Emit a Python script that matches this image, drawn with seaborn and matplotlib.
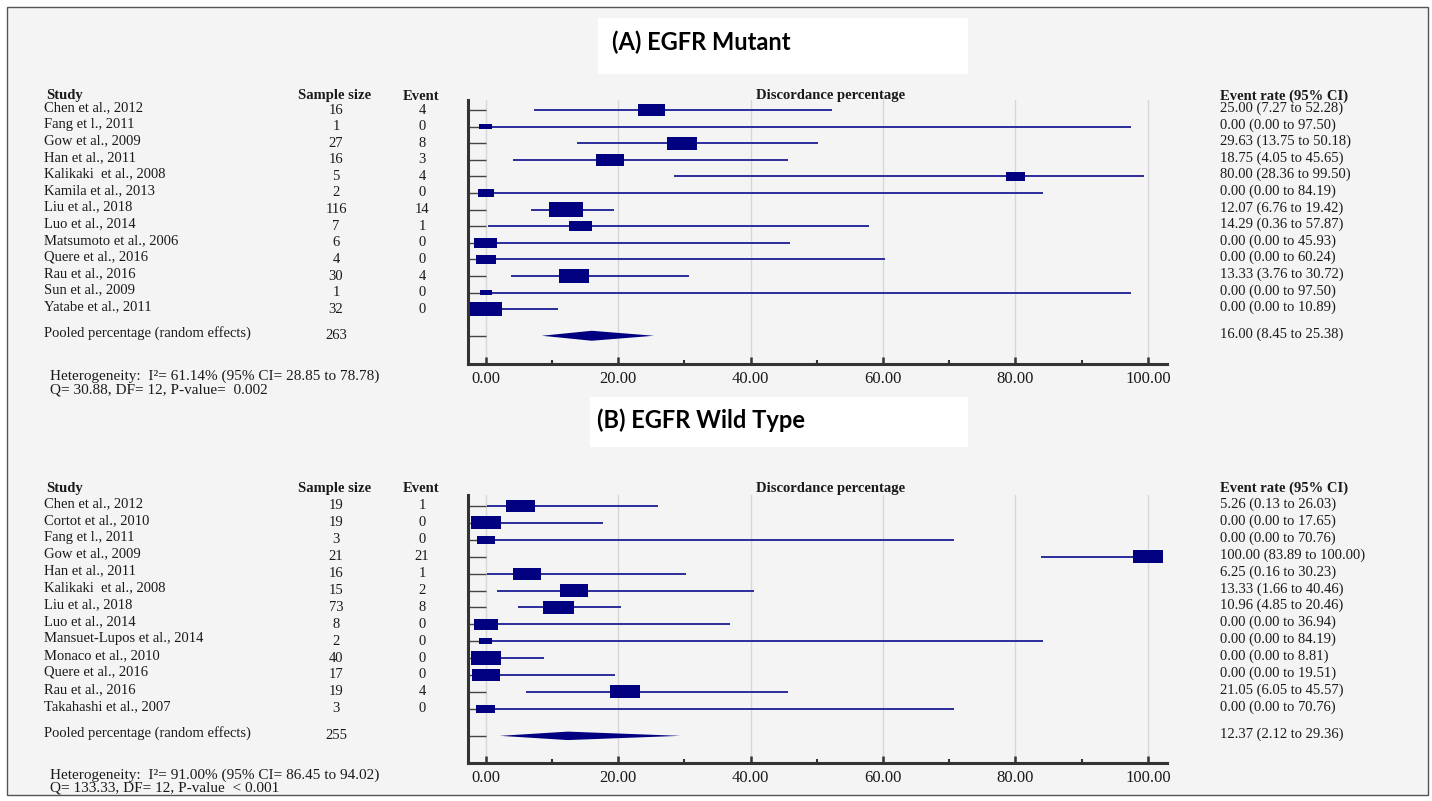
import matplotlib
matplotlib.use("Agg")
import numpy as np
import pandas as pd
import matplotlib.pyplot as plt
import seaborn as sns
from matplotlib.patches import Rectangle
from matplotlib.transforms import blended_transform_factory

# Panel A - EGFR mutant

studies_a = ['Chen et al., 2012', 'Fang et l., 2011', 'Gow et al., 2009', 'Han et al., 2011',
             'Kalikaki  et al., 2008', 'Kamila et al., 2013', 'Liu et al., 2018', 'Luo et al., 2014',
             'Matsumoto et al., 2006', 'Quere et al., 2016', 'Rau et al., 2016', 'Sun et al., 2009',
             'Yatabe et al., 2011']
n_a = [16, 1, 27, 16, 5, 2, 116, 7, 6, 4, 30, 1, 32]
event_a = [4, 0, 8, 3, 4, 0, 14, 1, 0, 0, 4, 0, 0]
rate_a = [25.00, 0.00, 29.63, 18.75, 80.00, 0.00, 12.07, 14.29, 0.00, 0.00, 13.33, 0.00, 0.00]
lo_a = [7.27, 0.00, 13.75, 4.05, 28.36, 0.00, 6.76, 0.36, 0.00, 0.00, 3.76, 0.00, 0.00]
hi_a = [52.28, 97.50, 50.18, 45.65, 99.50, 84.19, 19.42, 57.87, 45.93, 60.24, 30.72, 97.50, 10.89]
weight_a = [9.0, 2.2, 11.3, 9.8, 4.9, 3.5, 14.8, 6.7, 6.7, 5.2, 11.3, 2.0, 12.6]
pooled_n_a = 263
pooled_a = [16.00, 8.45, 25.38]
het_a = ['Heterogeneity:  I\u00b2= 61.14% (95% CI= 28.85 to 78.78)',
         'Q= 30.88, DF= 12, P-value=  0.002']

# Panel B - EGFR wild type

studies_b = ['Chen et al., 2012', 'Cortot et al., 2010', 'Fang et l., 2011', 'Gow et al., 2009',
             'Han et al., 2011', 'Kalikaki  et al., 2008', 'Liu et al., 2018', 'Luo et al., 2014',
             'Mansuet-Lupos et al., 2014', 'Monaco et al., 2010', 'Quere et al., 2016',
             'Rau et al., 2016', 'Takahashi et al., 2007']
n_b = [19, 19, 3, 21, 16, 15, 73, 8, 2, 40, 17, 19, 3]
event_b = [1, 0, 0, 21, 1, 2, 8, 0, 0, 0, 0, 4, 0]
rate_b = [5.26, 0.00, 0.00, 100.00, 6.25, 13.33, 10.96, 0.00, 0.00, 0.00, 0.00, 21.05, 0.00]
lo_b = [0.13, 0.00, 0.00, 83.89, 0.16, 1.66, 4.85, 0.00, 0.00, 0.00, 0.00, 6.05, 0.00]
hi_b = [26.03, 17.65, 70.76, 100.00, 30.23, 40.46, 20.46, 36.94, 84.19, 8.81, 19.51, 45.57, 70.76]
weight_b = [9.3, 9.6, 3.6, 9.6, 8.3, 9.0, 9.9, 6.5, 1.9, 9.9, 8.7, 9.6, 4.0]
pooled_n_b = 255
pooled_b = [12.37, 2.12, 29.36]
het_b = ['Heterogeneity:  I\u00b2= 91.00% (95% CI= 86.45 to 94.02)',
         'Q= 133.33, DF= 12, P-value  < 0.001']

x_ticks = [0, 20, 40, 60, 80, 100]

# Style

sns.set_style('white')
plt.rcParams['font.family'] = ['Liberation Serif', 'DejaVu Serif']

W, H = 1432, 801
fig = plt.figure(figsize=(W / 100, H / 100), dpi=100, facecolor='white')


def fx(px):
    return px / W


def fy(py):
    return 1 - py / H


# background, border and white title boxes (behind the axes)
fig.patches.append(Rectangle((fx(7), fy(795)), fx(1421), 788 / H, transform=fig.transFigure,
                             facecolor='#f4f4f4', edgecolor='#555555', linewidth=1, zorder=-3))
fig.patches.append(Rectangle((fx(598), fy(74)), fx(370), 56 / H, transform=fig.transFigure,
                             facecolor='white', edgecolor='none', zorder=-2))
fig.patches.append(Rectangle((fx(590), fy(447)), fx(378), 50 / H, transform=fig.transFigure,
                             facecolor='white', edgecolor='none', zorder=-2))

box_col = '#000080'
line_col = '#2c2c9c'
txt_col = '#1a1a1a'
rect = [(-1, -0.44), (1, -0.44), (1, 0.44), (-1, 0.44), (-1, -0.44)]


def draw_panel(top, bottom, row_px, row_step, title, title_y, studies, n, ev, rate, lo, hi,
               weight, pooled_n, pooled, het, head_y, het_y, area_total, diam_h):
    ax = fig.add_axes([fx(468), fy(bottom), fx(1167) - fx(468), fy(top) - fy(bottom)])
    ax.set_facecolor('none')
    rows = np.arange(len(studies), dtype=float)
    pooled_row = 13.6
    ax.set_xlim(-2.7, 102.9)
    ax.set_ylim((bottom - row_px) / row_step, (top - row_px) / row_step)

    # CI lines and weighted boxes
    ax.hlines(rows, lo, hi, color=line_col, linewidth=1.4, zorder=3)
    df = pd.DataFrame({'rate': rate, 'row': rows, 'weight': weight})
    w_px = np.sqrt(df['weight'] / 100 * area_total / 0.44)
    df['s'] = (w_px * 0.72) ** 2
    sns.scatterplot(data=df, x='rate', y='row', s=df['s'], marker=rect, color=box_col,
                    linewidth=0, edgecolor='none', legend=False, ax=ax, zorder=4)

    # pooled diamond
    est, plo, phi = pooled
    ax.fill([plo, est, phi, est], [pooled_row, pooled_row - diam_h, pooled_row, pooled_row + diam_h],
            color=box_col, linewidth=0, zorder=4)

    # axes styling
    ax.set_xlabel('')
    ax.set_ylabel('')
    for side in ['top', 'right']:
        ax.spines[side].set_visible(False)
    for side in ['left', 'bottom']:
        ax.spines[side].set_linewidth(2.2)
        ax.spines[side].set_color('#333333')
    ax.set_xticks(x_ticks)
    ax.set_xticklabels([f'{t:.2f}' for t in x_ticks], fontsize=12, color=txt_col)
    ax.set_xticks([10, 30, 50, 70, 90], minor=True)
    ax.tick_params(axis='x', which='major', bottom=True, direction='in', length=5, width=1.8,
                   color='#333333', pad=5)
    ax.tick_params(axis='x', which='minor', bottom=True, direction='in', length=3, width=1.5,
                   color='#333333')
    ax.set_yticks(list(rows) + [pooled_row])
    ax.set_yticklabels([])
    ax.tick_params(axis='y', left=True, direction='in', length=13, width=1, color='#444444')
    ax.grid(axis='x', which='major', color='#d6d6d6', linewidth=1)
    ax.set_axisbelow(True)

    # table text
    tr = blended_transform_factory(fig.transFigure, ax.transData)
    for i, name in enumerate(studies):
        ax.text(fx(44), i - 0.15, name, transform=tr, ha='left', va='center', fontsize=10.5, color=txt_col)
        ax.text(fx(336), i, str(n[i]), transform=tr, ha='center', va='center', fontsize=10.5, color=txt_col)
        ax.text(fx(422), i, str(ev[i]), transform=tr, ha='center', va='center', fontsize=10.5, color=txt_col)
        ax.text(fx(1220), i - 0.1, f'{rate[i]:.2f} ({lo[i]:.2f} to {hi[i]:.2f})', transform=tr,
                ha='left', va='center', fontsize=10.5, color=txt_col)
    ax.text(fx(44), pooled_row - 0.15, 'Pooled percentage (random effects)', transform=tr,
            ha='left', va='center', fontsize=10.5, color=txt_col)
    ax.text(fx(336), pooled_row, str(pooled_n), transform=tr, ha='center', va='center',
            fontsize=10.5, color=txt_col)
    ax.text(fx(1220), pooled_row - 0.1, f'{est:.2f} ({plo:.2f} to {phi:.2f})', transform=tr,
            ha='left', va='center', fontsize=10.5, color=txt_col)

    # headers
    hdr = dict(fontsize=10.5, fontweight='bold', va='center', color=txt_col)
    fig.text(fx(46), fy(head_y), 'Study', ha='left', **hdr)
    fig.text(fx(335), fy(head_y), 'Sample size', ha='center', **hdr)
    fig.text(fx(421), fy(head_y), 'Event', ha='center', **hdr)
    fig.text(fx(831), fy(head_y), 'Discordance percentage', ha='center', **hdr)
    fig.text(fx(1220), fy(head_y), 'Event rate (95% CI)', ha='left', **hdr)

    # heterogeneity
    fig.text(fx(50), fy(het_y), het[0], ha='left', va='center', fontsize=11, color=txt_col)
    fig.text(fx(50), fy(het_y + 13.5), het[1], ha='left', va='center', fontsize=11, color=txt_col)

    # panel title
    fig.text(fx(701), fy(title_y), title, ha='center', va='center', fontsize=17,
             fontweight='bold', family=['Lato', 'DejaVu Sans'], color='black')
    return ax


draw_panel(100, 364, 110, 16.6, '(A) EGFR Mutant', 42, studies_a, n_a, event_a, rate_a, lo_a, hi_a,
           weight_a, pooled_n_a, pooled_a, het_a, 96, 376, 3440, 0.3)
draw_panel(495, 763, 506, 16.9, '(B) EGFR Wild Type', 420, studies_b, n_b, event_b, rate_b, lo_b, hi_b,
           weight_b, pooled_n_b, pooled_b, het_b, 488, 775, 4050, 0.25)

fig.savefig('out.png', dpi=100, facecolor='white')
